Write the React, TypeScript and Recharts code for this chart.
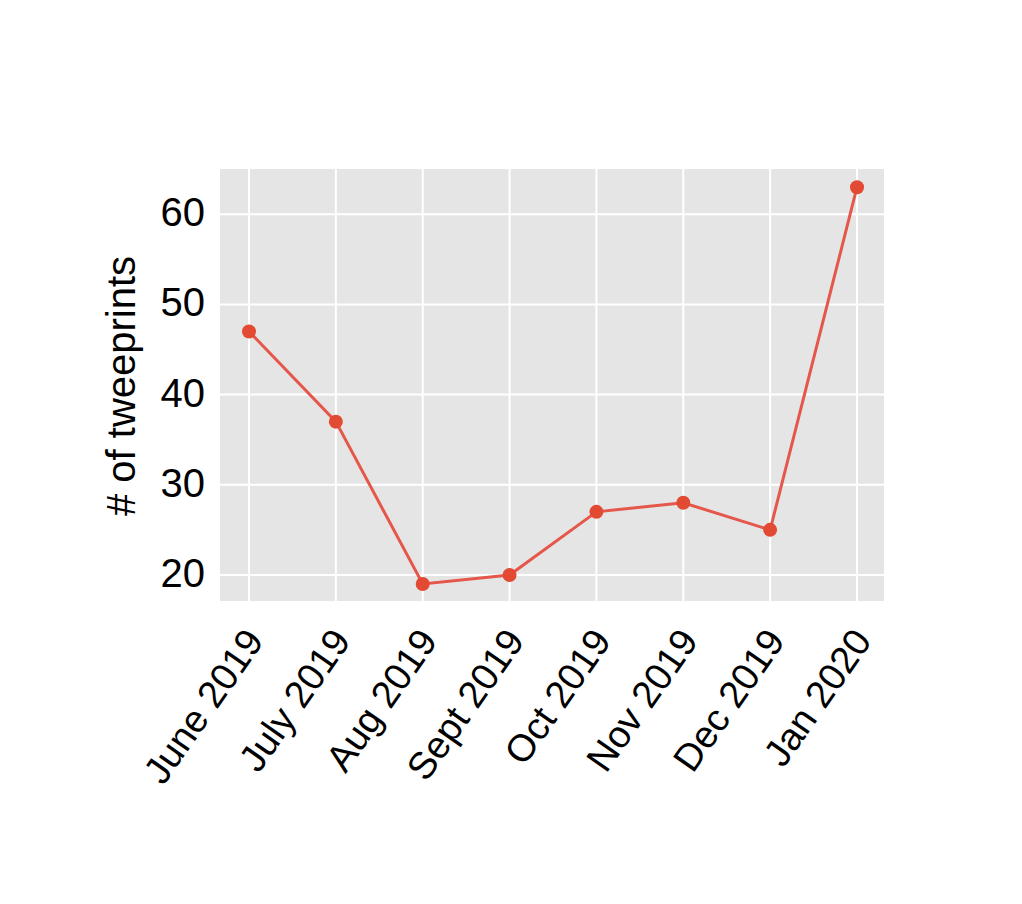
import React from "react";
import { LineChart, Line, XAxis, YAxis, CartesianGrid } from "recharts";

const months = ["June 2019", "July 2019", "Aug 2019", "Sept 2019", "Oct 2019", "Nov 2019", "Dec 2019", "Jan 2020"];
const tweeprints = [47, 37, 19, 20, 27, 28, 25, 63];
const yTicks = [20, 30, 40, 50, 60];
const yDomain = [17, 65.13];
const yLabel = "# of tweeprints";

const data = months.map((m, i) => ({ month: m, count: tweeprints[i] }));

const FONT = "'Liberation Sans', Arial, Helvetica, sans-serif";
const RED = "#e24a33";

const YTick = (props: any) => {
  const { x, y, payload } = props;
  return (
    <text x={x - 14} y={y} dy={12} textAnchor="end" fontSize={40} fontFamily={FONT} fill="#000">
      {payload.value}
    </text>
  );
};

const XTick = (props: any) => {
  const { x, y, payload } = props;
  return (
    <g transform={`translate(${x + 16},${y + 39})`}>
      <text x={0} y={0} transform="rotate(-55)" textAnchor="end" fontSize={38} fontFamily={FONT} fill="#000">
        {payload.value}
      </text>
    </g>
  );
};

const YLabel = (props: any) => {
  const vb = props.viewBox || {};
  const cx = (vb.x ?? 0) + 35.6;
  const cy = (vb.y ?? 0) + (vb.height ?? 0) / 2 + 1;
  return (
    <text
      x={0}
      y={0}
      transform={`translate(${cx},${cy}) rotate(-90)`}
      textAnchor="middle"
      fontSize={40}
      fontFamily={FONT}
      fill="#000"
    >
      {yLabel}
    </text>
  );
};

export default function App() {
  return (
    <div style={{ width: 1006, height: 888 }}>
      <LineChart
        width={1006}
        height={888}
        data={data}
        margin={{ top: 160, right: 129, left: 91, bottom: 94 }}
      >
        <CartesianGrid fill="#e5e5e5" stroke="#ffffff" strokeWidth={2} />
        <XAxis
          dataKey="month"
          type="category"
          padding={{ left: 30, right: 28 }}
          axisLine={false}
          tickLine={false}
          tickSize={0}
          tickMargin={0}
          height={200}
          interval={0}
          tick={<XTick />}
        />
        <YAxis
          type="number"
          domain={yDomain}
          ticks={yTicks}
          allowDataOverflow
          axisLine={false}
          tickLine={false}
          tickSize={0}
          tickMargin={0}
          width={120}
          tick={<YTick />}
          label={<YLabel />}
        />
        <Line
          type="linear"
          dataKey="count"
          stroke="#e5574a"
          strokeWidth={3}
          dot={{ r: 7, fill: RED, stroke: "none" }}
          activeDot={false}
          isAnimationActive={false}
        />
      </LineChart>
    </div>
  );
}
